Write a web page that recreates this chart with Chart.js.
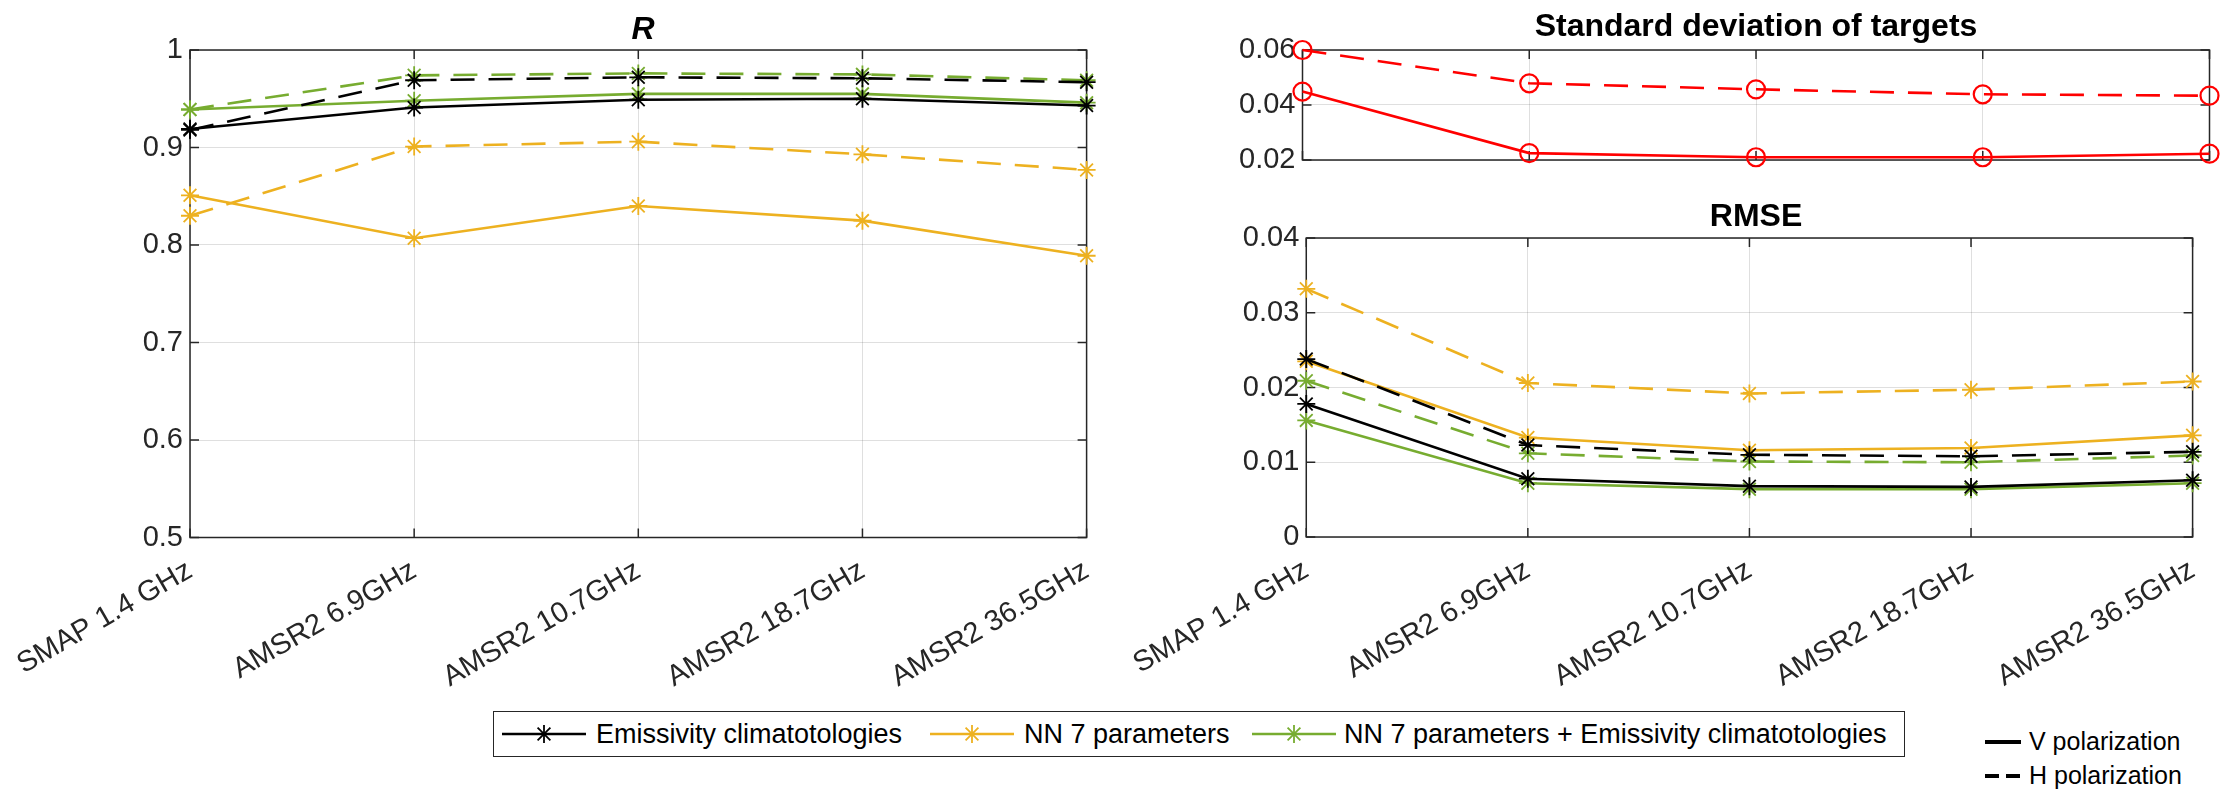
<!DOCTYPE html>
<html>
<head>
<meta charset="utf-8">
<script src="https://cdn.jsdelivr.net/npm/chart.js@4/dist/chart.umd.min.js"></script>
<style>
  html,body{margin:0;padding:0;background:#fff;}
  body{width:2226px;height:789px;position:relative;overflow:hidden;font-family:"Liberation Sans",Arial,sans-serif;}
  .cv{position:absolute;}
  .title{position:absolute;font-weight:bold;font-size:32px;color:#000;transform:translate(-50%,-50%);white-space:nowrap;}
  #legend{position:absolute;left:493px;top:711px;width:1412px;height:46px;border:1.5px solid #262626;box-sizing:border-box;}
  .li{position:absolute;top:0;height:100%;display:flex;align-items:center;font-size:27px;color:#000;white-space:nowrap;}
  .pol{position:absolute;font-size:25px;color:#000;white-space:nowrap;display:flex;align-items:center;}
</style>
</head>
<body>
<div class="cv" style="left:0;top:0;width:1120px;height:700px;"><canvas id="cR"></canvas></div>
<div class="cv" style="left:1120px;top:0;width:1106px;height:200px;"><canvas id="cSD"></canvas></div>
<div class="cv" style="left:1120px;top:200px;width:1106px;height:500px;"><canvas id="cRMSE"></canvas></div>

<div class="title" style="left:643px;top:28px;font-style:italic;">R</div>
<div class="title" style="left:1756px;top:25px;">Standard deviation of targets</div>
<div class="title" style="left:1756px;top:215px;">RMSE</div>

<div id="legend"></div>
<div class="pol" style="left:1985px;top:727px;"><svg width="38" height="10"><rect x="0" y="3" width="36" height="4" fill="#000"/></svg><span style="margin-left:6px">V polarization</span></div>
<div class="pol" style="left:1985px;top:761px;"><svg width="38" height="10"><rect x="0" y="3" width="14" height="4" fill="#000"/><rect x="21" y="3" width="14" height="4" fill="#000"/></svg><span style="margin-left:6px">H polarization</span></div>

<script>
// ---------- data ----------
const categories = ['SMAP 1.4 GHz', 'AMSR2 6.9GHz', 'AMSR2 10.7GHz', 'AMSR2 18.7GHz', 'AMSR2 36.5GHz'];

// R
const rEmisV   = [0.919, 0.941, 0.949, 0.950, 0.943];
const rEmisH   = [0.918, 0.969, 0.972, 0.971, 0.967];
const rNnV     = [0.851, 0.807, 0.840, 0.825, 0.789];
const rNnH     = [0.830, 0.901, 0.906, 0.893, 0.877];
const rNnEmisV = [0.939, 0.948, 0.955, 0.955, 0.946];
const rNnEmisH = [0.939, 0.974, 0.976, 0.975, 0.969];

// Standard deviation of targets
const sdV = [0.0449, 0.0225, 0.0210, 0.0210, 0.0223];
const sdH = [0.0600, 0.0479, 0.0457, 0.0439, 0.0434];

// RMSE
const rmseEmisV   = [0.0178, 0.0078, 0.0068, 0.0067, 0.0076];
const rmseEmisH   = [0.0238, 0.0123, 0.0110, 0.0108, 0.0114];
const rmseNnV     = [0.0235, 0.0133, 0.0116, 0.0119, 0.0136];
const rmseNnH     = [0.0332, 0.0206, 0.0192, 0.0197, 0.0208];
const rmseNnEmisV = [0.0156, 0.0072, 0.0064, 0.0064, 0.0072];
const rmseNnEmisH = [0.0209, 0.0112, 0.0101, 0.0100, 0.0109];

// tick labels
const rTicks    = [0.5, 0.6, 0.7, 0.8, 0.9, 1];
const sdTicks   = [0.02, 0.04, 0.06];
const rmseTicks = [0, 0.01, 0.02, 0.03, 0.04];

const legendNames = ['Emissivity climatotologies', 'NN 7 parameters', 'NN 7 parameters + Emissivity climatotologies'];

// ---------- styles ----------
const BLACK = '#000000', YELLOW = '#EDB120', GREEN = '#77AC30', RED = '#FF0000';
const DASH = [24, 14];
const AXC = '#262626';
const FONT = "'Liberation Sans', Arial, sans-serif";

function ds(data, color, dashed, style) {
  return {
    data, borderColor: color, backgroundColor: 'rgba(0,0,0,0)',
    borderWidth: 2.6, borderDash: dashed ? DASH : [],
    pointStyle: style || 'star', pointRadius: 9,
    pointBorderWidth: style === 'circle' ? 2.2 : 1.8,
    pointBorderColor: color, pointBackgroundColor: 'rgba(0,0,0,0)',
    pointHoverRadius: 9, tension: 0, clip: false, fill: false
  };
}

const boxPlugin = {
  id: 'box',
  beforeDatasetsDraw(chart) {
    const {ctx, chartArea: a, scales} = chart;
    ctx.save();
    ctx.strokeStyle = AXC; ctx.lineWidth = 1.5;
    ctx.strokeRect(a.left, a.top, a.right - a.left, a.bottom - a.top);
    const L = 9;
    ctx.beginPath();
    scales.x.ticks.forEach((t, i) => {
      const x = scales.x.getPixelForTick(i);
      ctx.moveTo(x, a.bottom); ctx.lineTo(x, a.bottom - L);
      ctx.moveTo(x, a.top); ctx.lineTo(x, a.top + L);
    });
    scales.y.ticks.forEach((t, i) => {
      const y = scales.y.getPixelForTick(i);
      ctx.moveTo(a.left, y); ctx.lineTo(a.left + L, y);
      ctx.moveTo(a.right, y); ctx.lineTo(a.right - L, y);
    });
    ctx.stroke();
    ctx.restore();
  }
};

function fmt(v) { return String(Number(v.toFixed(4))); }

function makeChart(id, datasets, yMin, yMax, ticks, opts) {
  const cfg = {
    type: 'line',
    data: { labels: categories, datasets },
    options: {
      responsive: true, maintainAspectRatio: false, animation: false,
      events: [],
      layout: { padding: { left: 0, right: opts.right, top: opts.top, bottom: 0 } },
      plugins: { legend: { display: false }, title: { display: false }, tooltip: { enabled: false } },
      scales: {
        x: {
          offset: false,
          grid: { color: 'rgba(38,38,38,0.15)', lineWidth: 1, drawTicks: false },
          border: { display: false },
          ticks: {
            display: opts.showX, color: AXC, font: { family: FONT, size: 29 },
            minRotation: 30, maxRotation: 30, padding: opts.xPad, autoSkip: false
          },
          afterFit: s => { s.height = opts.xH; }
        },
        y: {
          min: yMin, max: yMax,
          grid: { color: 'rgba(38,38,38,0.15)', lineWidth: 1, drawTicks: false },
          border: { display: false },
          afterBuildTicks: s => { s.ticks = ticks.map(v => ({ value: v })); },
          ticks: { color: AXC, font: { family: FONT, size: 29 }, padding: 7, callback: v => fmt(v) },
          afterFit: s => { s.width = opts.yW; }
        }
      }
    },
    plugins: [boxPlugin]
  };
  return new Chart(document.getElementById(id), cfg);
}

makeChart('cR', [
  ds(rEmisV, BLACK, false), ds(rEmisH, BLACK, true),
  ds(rNnV, YELLOW, false), ds(rNnH, YELLOW, true),
  ds(rNnEmisV, GREEN, false), ds(rNnEmisH, GREEN, true)
], 0.5, 1, rTicks, { right: 23, top: 50, yW: 190, xH: 162.5, showX: true, xPad: 16 });

makeChart('cSD', [
  ds(sdV, RED, false, 'circle'), ds(sdH, RED, true, 'circle')
], 0.02, 0.06, sdTicks, { right: 16.5, top: 50, yW: 182.5, xH: 40, showX: false, xPad: 0 });

makeChart('cRMSE', [
  ds(rmseEmisV, BLACK, false), ds(rmseEmisH, BLACK, true),
  ds(rmseNnV, YELLOW, false), ds(rmseNnH, YELLOW, true),
  ds(rmseNnEmisV, GREEN, false), ds(rmseNnEmisH, GREEN, true)
], 0, 0.04, rmseTicks, { right: 16.5, top: 38, yW: 182.5, xH: 163, showX: true, xPad: 16 });

// ---------- legend ----------
const legendColors = [BLACK, YELLOW, GREEN];
const legendPos = [[8, 102], [436, 530], [758, 850]];
const lg = document.getElementById('legend');
legendNames.forEach((name, i) => {
  const c = legendColors[i];
  const icon = document.createElement('div');
  icon.className = 'li';
  icon.style.left = legendPos[i][0] + 'px';
  icon.innerHTML = `<svg width="84" height="20" viewBox="0 0 84 20">
    <line x1="0" y1="10" x2="84" y2="10" stroke="${c}" stroke-width="2.4"/>
    <g stroke="${c}" stroke-width="1.8">
      <line x1="42" y1="1" x2="42" y2="19"/><line x1="33" y1="10" x2="51" y2="10"/>
      <line x1="35.6" y1="3.6" x2="48.4" y2="16.4"/><line x1="35.6" y1="16.4" x2="48.4" y2="3.6"/>
    </g></svg>`;
  lg.appendChild(icon);
  const t = document.createElement('div');
  t.className = 'li';
  t.style.left = legendPos[i][1] + 'px';
  t.textContent = name;
  lg.appendChild(t);
});
</script>
</body>
</html>
